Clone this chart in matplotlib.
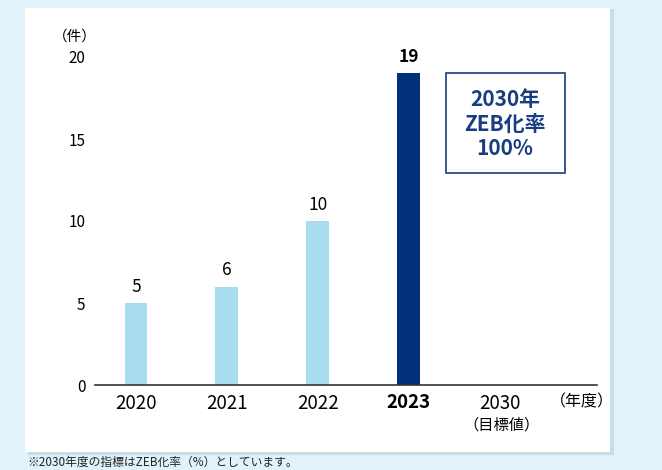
import matplotlib.pyplot as plt
from matplotlib.patches import Rectangle

plt.rcParams['font.family'] = ['Noto Sans CJK JP', 'DejaVu Sans']

# data
years = ["2020", "2021", "2022", "2023", "2030"]
counts = [5, 6, 10, 19]
bar_colors = ["#a8dcee", "#a8dcee", "#a8dcee", "#00307a"]
yticks = [0, 5, 10, 15, 20]

fig = plt.figure(figsize=(6.62, 4.70), dpi=100)
fig.patch.set_facecolor("#e1f2fa")

# white panel with a soft shadow
fig.patches.append(Rectangle((28 / 662, 1 - 455 / 470), 586 / 662, 446 / 470,
                             transform=fig.transFigure, facecolor="#c9dde6",
                             edgecolor="none", zorder=0))
fig.patches.append(Rectangle((25 / 662, 1 - 452 / 470), 585 / 662, 444 / 470,
                             transform=fig.transFigure, facecolor="white",
                             edgecolor="none", zorder=0))

ax = fig.add_axes([95 / 662, 85 / 470, 502 / 662, 328 / 470])
ax.set_facecolor("none")
ax.set_zorder(1)

x = list(range(len(counts)))
ax.bar(x, counts, width=0.25, color=bar_colors, zorder=2)

for i, v in enumerate(counts):
    ax.text(i, v + 0.45, str(v), ha="center", va="bottom", fontsize=12.5,
            fontweight="bold" if i == 3 else "normal", color="black")

ax.set_xlim(-0.45, 5.07)
ax.set_ylim(0, 20)
ax.set_yticks(yticks)
ax.set_yticklabels([str(t) for t in yticks], fontsize=11)
ax.set_xticks(range(len(years)))
ax.set_xticklabels(years, fontsize=13.5)
ax.get_xticklabels()[3].set_fontweight("bold")
ax.tick_params(axis="both", length=0)
ax.tick_params(axis="x", pad=6)
ax.tick_params(axis="y", pad=7)

for s in ["top", "right", "left"]:
    ax.spines[s].set_visible(False)
ax.spines["bottom"].set_color("#333333")
ax.spines["bottom"].set_linewidth(1.2)

# units
fig.text(75 / 662, 1 - 37 / 470, "（件）", ha="center", va="center", fontsize=10.5)
fig.text(582 / 662, 1 - 402 / 470, "（年度）", ha="center", va="center", fontsize=11.5)
fig.text(502 / 662, 1 - 425 / 470, "（目標値）", ha="center", va="center", fontsize=11)

# target box
fig.patches.append(Rectangle((446 / 662, 1 - 173 / 470), 119 / 662, 100 / 470,
                             transform=fig.transFigure, facecolor="white",
                             edgecolor="#1a3c80", linewidth=1.2, zorder=3))
fig.text(505 / 662, 1 - 124 / 470, "2030年\nZEB化率\n100%", ha="center",
         va="center", fontsize=15, fontweight="bold", color="#1a3c80",
         linespacing=1.2, zorder=4)

# footnote
fig.text(27 / 662, 1 / 470, "※2030年度の指標はZEB化率（%）としています。",
         ha="left", va="bottom", fontsize=8.5, color="#222222")

fig.savefig("out.png", dpi=100, facecolor=fig.get_facecolor())
